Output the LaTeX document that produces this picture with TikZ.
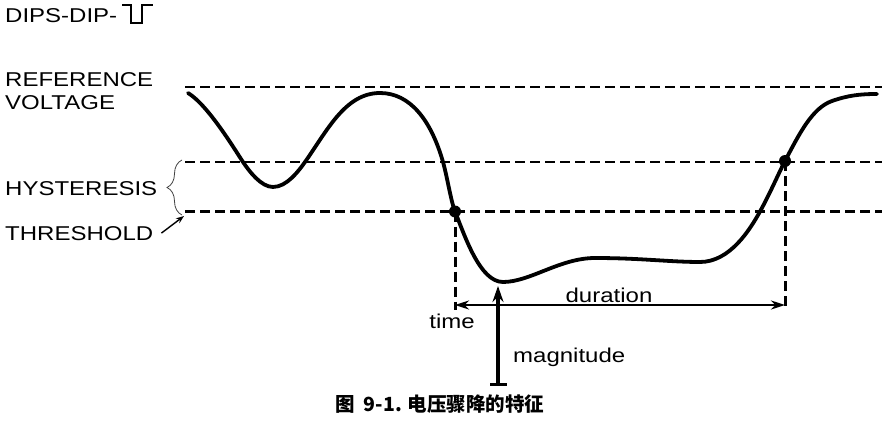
\documentclass[tikz,border=0pt]{standalone}
\usepackage{fontspec}
\setmainfont{Liberation Sans}[FakeStretch=1.2]
\newfontfamily\cjk{Noto Sans CJK SC}
\usetikzlibrary{arrows.meta,decorations.pathreplacing}

\begin{document}
\begin{tikzpicture}[x=1pt, y=-1pt,
  lbl/.style={inner sep=0pt, anchor=base west, font=\fontsize{20}{24}\selectfont},
  guide/.style={line width=2.2pt, dash pattern=on 10pt off 5pt},
  marker/.style={line width=3pt, dash pattern=on 10pt off 5pt},
  wave/.style={line width=3.8pt, line join=round, line cap=round},
  dot/.style={circle, fill=black, inner sep=0pt, minimum size=12pt},
  span/.style={line width=2.4pt, {Stealth[length=14pt,width=9pt]}-{Stealth[length=14pt,width=9pt]}},
  rise/.style={line width=3.2pt, {Bar[width=17pt]}-{Stealth[length=16pt,width=11pt]}},
  pointer/.style={line width=1.4pt, -{Stealth[length=8pt,width=6pt]}}
]
  \useasboundingbox (0,0) rectangle (882,422);

  % labels on the left
  \node[lbl] (dips) at (5,23) {DIPS-DIP-};
  \draw[line width=1.6pt] (122,5) -- (131,5) -- (131,23) -- (142,23) -- (142,5) -- (153,5);
  \node[lbl] (refv) at (5,87) {REFERENCE};
  \node[lbl] (volt) at (5,110) {VOLTAGE};
  \node[lbl] (hyst) at (5,195) {HYSTERESIS};
  \node[lbl] (thresh) at (5,240) {THRESHOLD};

  % reference, hysteresis and threshold levels
  \draw[guide] (185,87) -- (882,87);
  \draw[guide] (185,162) -- (882,162);
  \draw[guide] (185,211.5) -- (882,211.5);
  \draw[line width=0.8pt, black!75, decorate, decoration={brace, amplitude=15pt}]
    (182,215) -- (182,160);
  \coordinate (thr) at (184,216);
  \draw[pointer] ([xshift=8pt]thresh.east) -- (thr);

  % voltage curve
  \draw[wave] (188,93)
    .. controls (208,105) and (235,150) .. (243,162)
    .. controls (249,171) and (261,187) .. (273,187)
    .. controls (287,187) and (299,170.4) .. (305,162)
    .. controls (327,131) and (345,93) .. (380,93)
    .. controls (410,93) and (431,120) .. (443,162)
    .. controls (447,176) and (451,201.5) .. (455,211.5)
    .. controls (465,236.5) and (480,282) .. (503,282)
    .. controls (530,282) and (560,258) .. (595,258)
    .. controls (640,258) and (670,262) .. (700,262)
    .. controls (730,262) and (750,229.5) .. (760,211.5)
    .. controls (770,193.5) and (779,172.4) .. (785,161)
    .. controls (799,134.4) and (812,108) .. (832,101)
    .. controls (848,95.4) and (860,94) .. (877,94);
  \node[dot] (tin) at (455,211.5) {};
  \node[dot] (tout) at (785,161) {};

  % duration
  \coordinate (tinlow) at (455,310);
  \coordinate (toutlow) at (785,308);
  \draw[marker] (tin.center) -- (tinlow);
  \draw[marker] (tout.center) -- (toutlow);
  \coordinate (dl) at (455,305);
  \coordinate (dr) at (785,305);
  \draw[span] (dl) -- (dr);
  \node[lbl, anchor=base] (dur) at (609,302) {duration};
  \node[lbl, anchor=base] (time) at (452,328) {time};

  % magnitude
  \coordinate (mbot) at (498,386);
  \coordinate (mtop) at (498,286);
  \draw[rise] (mbot) -- (mtop);
  \node[lbl] (mag) at (513,362) {magnitude};

  \node[inner sep=0pt, font=\cjk\bfseries\fontsize{19.5}{22}\selectfont] (caption)
    at (440,404) {图\hspace{0.45em}9-1. 电压骤降的特征};
\end{tikzpicture}
\end{document}
